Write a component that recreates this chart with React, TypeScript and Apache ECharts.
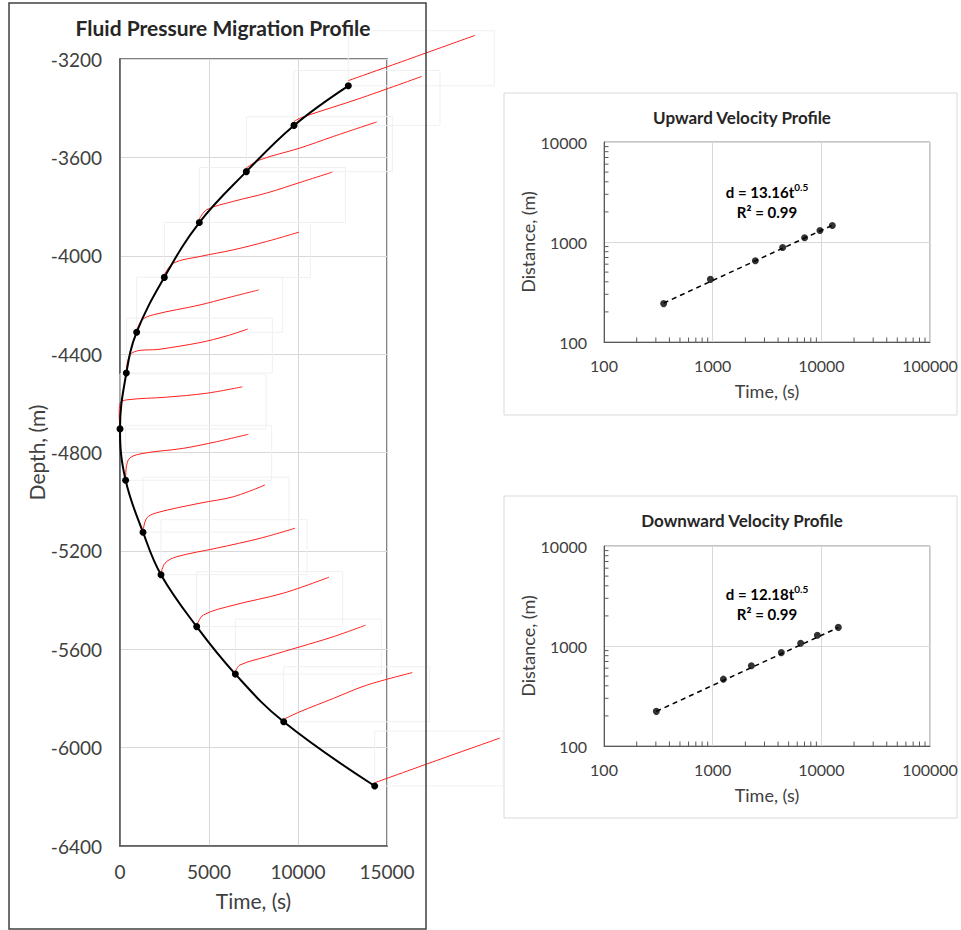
import React, { useEffect, useRef } from "react";
import * as echarts from "echarts";

// Main profile: front position (time, depth)
const profileTime = [12826, 9775, 7097, 4457, 2490, 936, 356, 0, 317, 1292, 2303, 4307, 6479, 9195, 14307];
const profileDepth = [-3309, -3470, -3658, -3865, -4088, -4311, -4477, -4704, -4913, -5124, -5297, -5508, -5701, -5895, -6156];

// Pressure fronts (red curves), [time, depth]
const pressureFronts: number[][][] = [
  [[12826, -3288], [16400, -3196], [19944, -3104]],
  [[9775, -3454], [10200, -3438], [13400, -3362], [16949, -3271]],
  [[7097, -3643], [7865, -3610], [10112, -3562], [11983, -3515], [14421, -3456]],
  [[4457, -3851], [4870, -3813], [6365, -3779], [8240, -3745], [10112, -3702], [11927, -3660]],
  [[2490, -4078], [2994, -4030], [4494, -4003], [6365, -3976], [8240, -3942], [10056, -3904]],
  [[955, -4301], [1236, -4261], [1871, -4240], [4494, -4200], [5994, -4172], [7792, -4139]],
  [[354, -4471], [657, -4396], [2247, -4380], [4494, -4353], [5994, -4326], [7174, -4298]],
  [[0, -4701], [0, -4600], [376, -4586], [2624, -4575], [4871, -4559], [6871, -4533]],
  [[320, -4912], [466, -4830], [1124, -4806], [3556, -4783], [5432, -4756], [7208, -4726]],
  [[1292, -5122], [1500, -5067], [2062, -5045], [4494, -5006], [6365, -4980], [8146, -4932]],
  [[2303, -5294], [2528, -5250], [3180, -5224], [5427, -5189], [7865, -5149], [9831, -5108]],
  [[4307, -5505], [4680, -5461], [6365, -5421], [9175, -5372], [11742, -5307]],
  [[6479, -5691], [6742, -5664], [8241, -5630], [10112, -5590], [11983, -5549], [13798, -5502]],
  [[9195, -5885], [10112, -5854], [11983, -5800], [13860, -5746], [16421, -5695]],
  [[14307, -6143], [17800, -6052], [21348, -5961]],
];

// Upward velocity profile
const upTime = [354, 953, 2470, 4406, 7016, 9705, 12620];
const upDist = [242, 423, 649, 881, 1102, 1303, 1462];
const upTrend = [[354, 245], [12620, 1468]];

// Downward velocity profile
const downTime = [303, 1255, 2270, 4285, 6450, 9190, 14330];
const downDist = [222, 466, 634, 859, 1064, 1279, 1535];
const downTrend = [[303, 222], [14330, 1530]];

// Log-axis minor tick positions
const minorMult = [2, 3, 4, 5, 6, 7, 8, 9];
const xDecades = [100, 1000, 10000];
const yDecades = [100, 1000];

const FONT = "Lato";
const LABEL = "#404040";
const plain = (v: number) => String(v);

function minorTicks(gridIdx: number, axis: "x" | "y", decades: number[], other: number) {
  const data: number[][] = [];
  decades.forEach((d) => minorMult.forEach((m) => data.push(axis === "x" ? [d * m, other] : [other, d * m])));
  return {
    type: "custom",
    xAxisIndex: gridIdx,
    yAxisIndex: gridIdx,
    silent: true,
    clip: false,
    z: 5,
    data,
    renderItem: (params: any, api: any) => {
      const p = api.coord([api.value(0), api.value(1)]);
      const shape =
        axis === "x"
          ? { x1: p[0], y1: p[1], x2: p[0], y2: p[1] - 4.5 }
          : { x1: p[0], y1: p[1], x2: p[0] + 4.5, y2: p[1] };
      return { type: "line", shape, style: { stroke: "#595959", lineWidth: 1 } };
    },
  };
}

function logXAxis(gridIndex: number) {
  return {
    type: "log",
    gridIndex,
    logBase: 10,
    min: 100,
    max: 100000,
    name: "Time, (s)",
    nameLocation: "middle",
    nameGap: 40,
    nameTextStyle: { fontFamily: FONT, fontSize: 18, color: LABEL },
    axisLine: { show: true, lineStyle: { color: "#595959", width: 1 } },
    axisTick: { show: false },
    axisLabel: { fontFamily: FONT, fontSize: 16, color: LABEL, margin: 15, formatter: plain },
    splitLine: { show: true, lineStyle: { color: "#d9d9d9", width: 1 } },
  };
}

function logYAxis(gridIndex: number) {
  return {
    type: "log",
    gridIndex,
    logBase: 10,
    min: 100,
    max: 10000,
    name: "Distance, (m)",
    nameLocation: "middle",
    nameGap: 64,
    nameTextStyle: { fontFamily: FONT, fontSize: 18, color: LABEL },
    axisLine: { show: true, lineStyle: { color: "#595959", width: 1 } },
    axisTick: { show: false },
    axisLabel: { fontFamily: FONT, fontSize: 16, color: LABEL, margin: 17, formatter: plain },
    splitLine: { show: true, lineStyle: { color: "#d9d9d9", width: 1 } },
  };
}

function eqText(x: number, y: number, coef: string) {
  return {
    type: "text",
    x,
    y,
    style: {
      text: `{b|d = ${coef}t}{s|0.5}\n{b|R² = 0.99}`,
      textAlign: "center",
      textVerticalAlign: "top",
      rich: {
        b: { fontFamily: FONT, fontWeight: "bold", fontSize: 15, fill: "#000", lineHeight: 20 },
        s: { fontFamily: FONT, fontWeight: "bold", fontSize: 10, fill: "#000", lineHeight: 20, verticalAlign: "top", padding: [0, 0, 8, 0] },
      },
    },
  };
}

export default function App() {
  const ref = useRef<HTMLDivElement>(null);
  useEffect(() => {
    const chart = echarts.init(ref.current!, null, { renderer: "svg" });
    const mainPoints = profileTime.map((t, i) => [t, profileDepth[i]]);
    const option: any = {
      animation: false,
      backgroundColor: "#fff",
      title: [
        {
          text: "Fluid Pressure Migration Profile",
          left: 218,
          top: 12,
          textAlign: "center",
          textStyle: { fontFamily: FONT, fontWeight: "bold", fontSize: 21, color: "#262626" },
        },
        {
          text: "Upward Velocity Profile",
          left: 737,
          top: 104,
          textAlign: "center",
          textStyle: { fontFamily: FONT, fontWeight: "bold", fontSize: 17, color: "#262626" },
        },
        {
          text: "Downward Velocity Profile",
          left: 737,
          top: 507,
          textAlign: "center",
          textStyle: { fontFamily: FONT, fontWeight: "bold", fontSize: 17, color: "#262626" },
        },
      ],
      grid: [
        { left: 120, top: 59, width: 267, height: 787, show: true, borderColor: "#595959", borderWidth: 1.5, backgroundColor: "transparent" },
        { left: 604, top: 142, width: 326, height: 200, show: true, borderColor: "#8c8c8c", borderWidth: 1, backgroundColor: "transparent" },
        { left: 604, top: 546, width: 326, height: 200, show: true, borderColor: "#8c8c8c", borderWidth: 1, backgroundColor: "transparent" },
      ],
      xAxis: [
        {
          type: "value",
          gridIndex: 0,
          min: 0,
          max: 15000,
          interval: 5000,
          name: "Time, (s)",
          nameLocation: "middle",
          nameGap: 44,
          nameTextStyle: { fontFamily: FONT, fontSize: 21, color: LABEL },
          axisLine: { show: true, lineStyle: { color: "#595959", width: 1.5 } },
          axisTick: { show: false },
          axisLabel: { fontFamily: FONT, fontSize: 19, color: LABEL, margin: 16, formatter: plain },
          splitLine: { show: true, lineStyle: { color: "#d9d9d9", width: 1 } },
        },
        logXAxis(1),
        logXAxis(2),
      ],
      yAxis: [
        {
          type: "value",
          gridIndex: 0,
          min: -6400,
          max: -3200,
          interval: 400,
          name: "Depth, (m)",
          nameLocation: "middle",
          nameGap: 70,
          nameTextStyle: { fontFamily: FONT, fontSize: 21, color: LABEL },
          axisLine: { show: true, lineStyle: { color: "#595959", width: 1.5 } },
          axisTick: { show: false },
          axisLabel: { fontFamily: FONT, fontSize: 19, color: LABEL, margin: 18, formatter: plain },
          splitLine: { show: true, lineStyle: { color: "#d9d9d9", width: 1 } },
        },
        logYAxis(1),
        logYAxis(2),
      ],
      graphic: [
        { type: "rect", shape: { x: 9, y: 3, width: 417, height: 926 }, style: { fill: "none", stroke: "#404040", lineWidth: 1.5 }, z: 100 },
        { type: "rect", shape: { x: 504, y: 93, width: 453, height: 322 }, style: { fill: "none", stroke: "#d9d9d9", lineWidth: 1 } },
        { type: "rect", shape: { x: 504, y: 496, width: 453, height: 322 }, style: { fill: "none", stroke: "#d9d9d9", lineWidth: 1 } },
        eqText(767, 182, "13.16"),
        eqText(767, 584, "12.18"),
      ],
      series: [
        {
          type: "custom",
          xAxisIndex: 0,
          yAxisIndex: 0,
          silent: true,
          clip: false,
          z: 1,
          data: mainPoints,
          renderItem: (params: any, api: any) => {
            const p = api.coord([api.value(0), api.value(1)]);
            return {
              type: "rect",
              shape: { x: p[0], y: p[1] - 55, width: Math.min(146, 503 - p[0]), height: 55 },
              style: { fill: "none", stroke: "#f0f0f0", lineWidth: 1 },
            };
          },
        },
        {
          type: "custom",
          xAxisIndex: 0,
          yAxisIndex: 0,
          silent: true,
          clip: false,
          z: 3,
          data: pressureFronts.map((f, i) => [f[0][0], f[0][1], i]),
          renderItem: (params: any, api: any) => {
            const front = pressureFronts[api.value(2)];
            const points = front.map((p) => api.coord(p));
            return {
              type: "polyline",
              shape: { points, smooth: 0.35 },
              style: { fill: "none", stroke: "#ff1f1f", lineWidth: 1 },
            };
          },
        },
        {
          type: "line",
          xAxisIndex: 0,
          yAxisIndex: 0,
          data: mainPoints,
          smooth: 0.4,
          symbol: "circle",
          symbolSize: 7,
          z: 4,
          itemStyle: { color: "#000" },
          lineStyle: { color: "#000", width: 2 },
        },
        {
          type: "line",
          xAxisIndex: 1,
          yAxisIndex: 1,
          data: upTrend,
          symbol: "none",
          lineStyle: { color: "#000", width: 1.5, type: [5, 4] },
        },
        {
          type: "scatter",
          xAxisIndex: 1,
          yAxisIndex: 1,
          data: upTime.map((t, i) => [t, upDist[i]]),
          symbol: "circle",
          symbolSize: 7,
          itemStyle: { color: "#000" },
        },
        {
          type: "line",
          xAxisIndex: 2,
          yAxisIndex: 2,
          data: downTrend,
          symbol: "none",
          lineStyle: { color: "#000", width: 1.5, type: [5, 4] },
        },
        {
          type: "scatter",
          xAxisIndex: 2,
          yAxisIndex: 2,
          data: downTime.map((t, i) => [t, downDist[i]]),
          symbol: "circle",
          symbolSize: 7,
          itemStyle: { color: "#000" },
        },
        minorTicks(1, "x", xDecades, 100),
        minorTicks(1, "y", yDecades, 100),
        minorTicks(2, "x", xDecades, 100),
        minorTicks(2, "y", yDecades, 100),
      ],
    };
    chart.setOption(option);
    return () => chart.dispose();
  }, []);
  return <div ref={ref} style={{ position: "fixed", left: 0, top: 0, width: 961, height: 930, background: "#fff" }} />;
}
